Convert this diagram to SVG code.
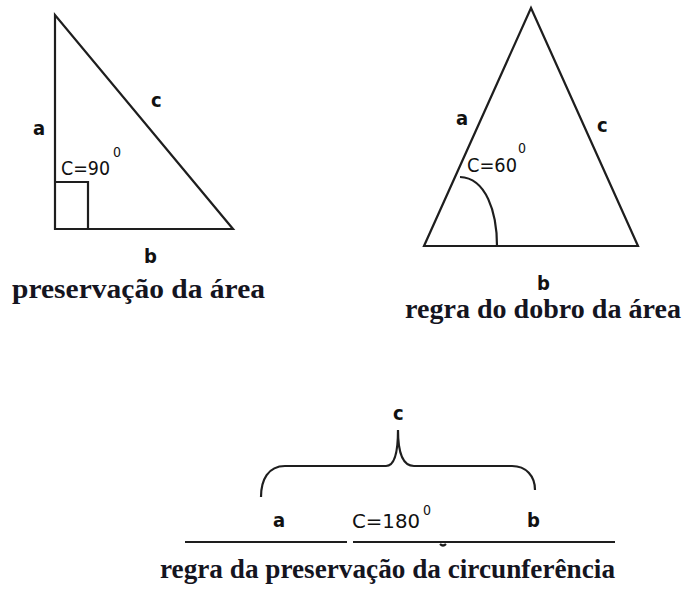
<svg xmlns="http://www.w3.org/2000/svg" width="683" height="590" viewBox="0 0 683 590">
<style>
.ln{fill:none;stroke:#1e1e1e;stroke-width:2.2;stroke-linejoin:miter}
.lb{font-family:"DejaVu Sans Condensed","DejaVu Sans",sans-serif;font-weight:bold;font-size:20px;fill:#111}
.ang{font-family:"DejaVu Sans Condensed","DejaVu Sans",sans-serif;font-size:19px;fill:#111}
.sup{font-family:"DejaVu Sans Condensed","DejaVu Sans",sans-serif;font-size:14px;fill:#111}
.cap{font-family:"Liberation Serif","Times New Roman",serif;font-weight:bold;font-size:27px;fill:#15151f}
</style>
<rect width="683" height="590" fill="#fff"/>
<g id="triangle-right">
<path class="ln" d="M55,15 L55,229 L233,229 Z"/>
<path class="ln" d="M55,182 L88,182 L88,229"/>
<text class="lb" x="33" y="135">a</text>
<text class="lb" x="151" y="107">c</text>
<text class="ang" x="61" y="175" textLength="49" lengthAdjust="spacingAndGlyphs">C=90</text>
<text class="sup" x="113" y="157">0</text>
<text class="lb" x="144" y="263">b</text>
<text class="cap" x="12" y="298" textLength="253" lengthAdjust="spacingAndGlyphs">preservação da área</text>
</g>
<g id="triangle-equilateral">
<path class="ln" d="M531,8 L424,246 L638,246 Z"/>
<path class="ln" d="M460,177 C486,178 497,212 497,246"/>
<text class="lb" x="456" y="125">a</text>
<text class="lb" x="597" y="132">c</text>
<text class="ang" x="467" y="172" textLength="50" lengthAdjust="spacingAndGlyphs">C=60</text>
<text class="sup" x="518" y="153">0</text>
<text class="lb" x="537" y="290">b</text>
<text class="cap" x="405" y="318" textLength="276" lengthAdjust="spacingAndGlyphs">regra do dobro da área</text>
</g>
<g id="straight-angle">
<path class="ln" d="M185,542 L347,542 M353,542 L615,542"/>
<path class="ln" stroke-width="1.5" d="M440,544 q3,3 6,0"/>
<path class="ln" d="M261,497 C261,480 268,466 285,466 L386,466 C394,466 398,455 398,430 C398,455 404,466 414,466 L512,466 C526,466 535,476 535,490"/>
<text class="lb" x="393" y="420">c</text>
<text class="lb" x="273" y="527">a</text>
<text class="ang" x="352" y="528" textLength="68" lengthAdjust="spacingAndGlyphs">C=180</text>
<text class="sup" x="423" y="515">0</text>
<text class="lb" x="527" y="527">b</text>
<text class="cap" x="160" y="578" textLength="455" lengthAdjust="spacingAndGlyphs">regra da preservação da circunferência</text>
</g>
</svg>
